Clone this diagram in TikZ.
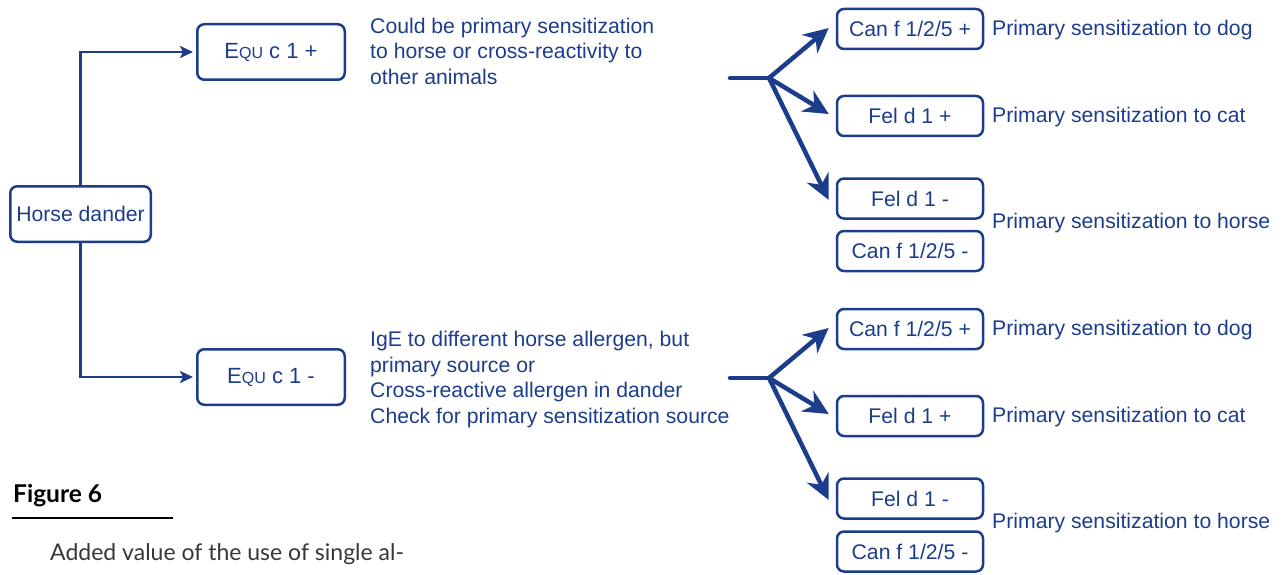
\documentclass[tikz,border=0pt]{standalone}
\usepackage{fontspec}
\setmainfont{Liberation Sans}
\newfontfamily\lato{Lato}
\usetikzlibrary{arrows.meta}
\definecolor{dblue}{RGB}{28,61,140}
\definecolor{capgray}{RGB}{55,55,55}
\newcommand{\Equ}{E{\fontsize{16}{16}\selectfont QU}}
\begin{document}
\begin{tikzpicture}[x=1pt,y=-1pt,
  every node/.style={font=\fontsize{21.2}{25.5}\selectfont, text=dblue},
  box/.style={draw=dblue, line width=2.5pt, rounded corners=7pt, inner sep=0pt},
  rbox/.style={box, minimum width=146pt, minimum height=40pt},
  ebox/.style={box, minimum width=147.5pt, minimum height=55.5pt, font=\fontsize{22}{26}\selectfont},
  lbl/.style={anchor=base west, inner sep=0pt},
  conn/.style={draw=dblue, line width=2.5pt, -{Stealth[length=13pt,width=12pt,inset=3pt]}, shorten >=3pt},
  fan/.style={draw=dblue, line width=4.5pt, -{Stealth[length=25pt,width=24pt,inset=8pt]}},
  stem/.style={draw=dblue, line width=4.5pt, line cap=round},
]
\useasboundingbox (0,0) rectangle (1285,575);

% left part
\node[box, minimum width=140.5pt, minimum height=55.5pt] (horse) at (80.5,214) {Horse dander};
\node[ebox] (equp) at (271,52) {\Equ\ c 1 +};
\node[ebox] (equm) at (271,377) {\Equ\ c 1 -};
\draw[conn] (horse.north) |- (equp.west);
\draw[conn] (horse.south) |- (equm.west);

% middle texts (base anchor = baseline of the last line)
\node[anchor=base west, align=left, inner sep=0pt] (t1) at (370,84.5)
  {Could be primary sensitization\\to horse or cross-reactivity to\\other animals};
\node[anchor=base west, align=left, inner sep=0pt] (t2) at (370,423)
  {IgE to different horse allergen, but\\primary source or\\Cross-reactive allergen in dander\\Check for primary sensitization source};

% upper group
\node[rbox] (cp1) at (910,29) {Can f 1/2/5 +};
\node[rbox] (fp1) at (910,116) {Fel d 1 +};
\node[rbox] (fm1) at (910,198.5) {Fel d 1 -};
\node[rbox] (cm1) at (910,251) {Can f 1/2/5 -};
\node[lbl] (l1a) at (992,35.5) {Primary sensitization to dog};
\node[lbl] (l1b) at (992,122.5) {Primary sensitization to cat};
\node[lbl] (l1c) at (992,228) {Primary sensitization to horse};
\coordinate (s1) at (730,78);
\coordinate (b1) at (769,78);
\draw[stem] (s1) -- (b1);
\draw[fan] (b1) -- ([xshift=-7pt,yshift=1pt]cp1.west);
\draw[fan] (b1) -- ([xshift=-7pt,yshift=2pt]fp1.west);
\draw[fan] (b1) -- ([xshift=-7pt,yshift=-1.5pt]fm1.west);

% lower group
\node[rbox] (cp2) at (910,329) {Can f 1/2/5 +};
\node[rbox] (fp2) at (910,416) {Fel d 1 +};
\node[rbox] (fm2) at (910,498.5) {Fel d 1 -};
\node[rbox] (cm2) at (910,551.5) {Can f 1/2/5 -};
\node[lbl] (l2a) at (992,335.5) {Primary sensitization to dog};
\node[lbl] (l2b) at (992,422.5) {Primary sensitization to cat};
\node[lbl] (l2c) at (992,528) {Primary sensitization to horse};
\coordinate (s2) at (730,378);
\coordinate (b2) at (769,378);
\draw[stem] (s2) -- (b2);
\draw[fan] (b2) -- ([xshift=-7pt,yshift=1pt]cp2.west);
\draw[fan] (b2) -- ([xshift=-7pt,yshift=2pt]fp2.west);
\draw[fan] (b2) -- ([xshift=-7pt,yshift=-1.5pt]fm2.west);

% caption
\node[anchor=base west, inner sep=0pt, font=\lato\bfseries\fontsize{24.5}{28}\selectfont, text=black] (fig) at (13,502) {Figure 6};
\coordinate (r1) at (12,518);
\coordinate (r2) at (173,518);
\draw[black, line width=2.7pt] (r1) -- (r2);
\node[anchor=base west, inner sep=0pt, font=\lato\fontsize{23}{27}\selectfont, text=capgray] (cap) at (50,560) {Added value of the use of single al-};
\end{tikzpicture}
\end{document}
